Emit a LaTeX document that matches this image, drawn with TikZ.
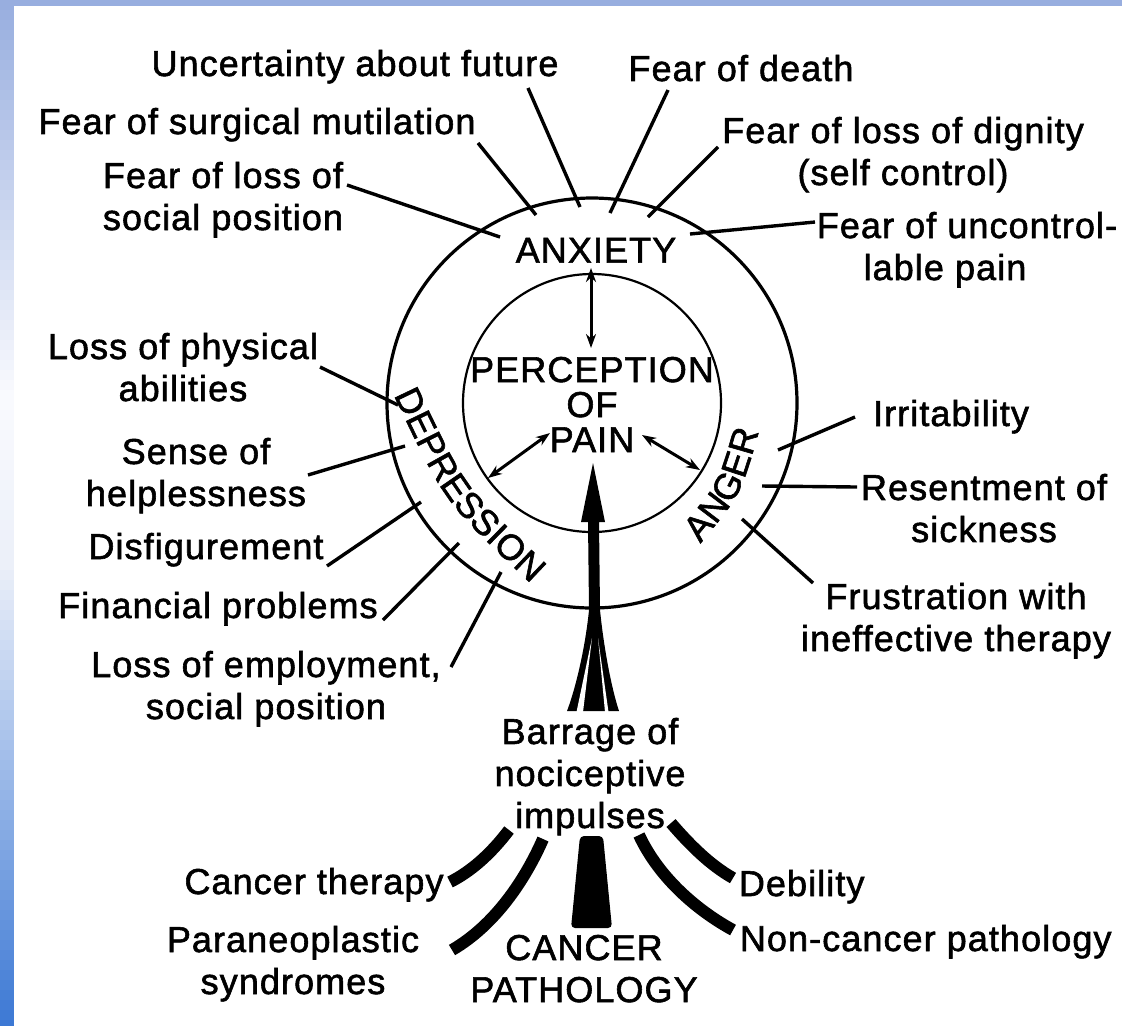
\documentclass[tikz,border=0pt]{standalone}
\usepackage{fontspec}
\setmainfont[LetterSpace=3,FakeBold=1.6]{Liberation Sans}
\usetikzlibrary{arrows.meta,decorations.text}

\definecolor{bordtop}{RGB}{152,174,223}
\definecolor{bordpale}{RGB}{249,250,254}
\definecolor{bordmid}{RGB}{236,240,249}
\definecolor{bordlow}{RGB}{60,120,212}

\begin{document}
\begin{tikzpicture}[x=0.5pt,y=-0.5pt,
  lbl/.style={anchor=north,align=center,inner sep=0.75pt,font=\fontsize{18}{21}\selectfont},
  lead/.style={line width=1.7pt},
  ring/.style={line width=1.6pt},
  twohead/.style={line width=1.5pt,{Stealth[length=7pt,width=5pt]}-{Stealth[length=7pt,width=5pt]}},
  branch/.style={line width=6pt}]
\useasboundingbox (0,0) rectangle (1122,1025);

%Background and border strips
\fill[white] (0,0) rectangle (1122,1025);
\foreach \i in {0,...,39}{
  \pgfmathsetmacro\p{100*\i/39}
  \colorlet{bandc}{bordpale!\p!bordtop}
  \fill[bandc] (0,\i*10) rectangle (14,\i*10+10.5);
}
\foreach \i in {0,...,15}{
  \pgfmathsetmacro\p{100*\i/15}
  \colorlet{bandc}{bordmid!\p!bordpale}
  \fill[bandc] (0,400+\i*10) rectangle (14,410.5+\i*10);
}
\foreach \i in {0,...,46}{
  \pgfmathsetmacro\p{100*\i/46}
  \colorlet{bandc}{bordlow!\p!bordmid}
  \fill[bandc] (0,560+\i*10) rectangle (14,570.5+\i*10);
}
\fill[bordtop] (0,0) rectangle (1122,6);

%Shape: Rings
\coordinate (ctr) at (592,403);
\draw[ring] (ctr) circle[radius=205];
\draw[line width=1.1pt] (ctr) circle[radius=129];

% Text Node
\node[lbl] (unc) at (355,48) {Uncertainty about future};
\node[lbl] (death) at (741,53) {Fear of death};
\node[lbl] (surg) at (257,106) {Fear of surgical mutilation};
\node[lbl] (dign) at (903,115) {Fear of loss of dignity\\(self control)};
\node[lbl] (socl) at (223,160) {Fear of loss of\\social position};
\node[lbl] (unctl) at (967,210) {Fear of uncontrol-\\lable pain\hspace*{22pt}};
\node[lbl] (lphys) at (183,331) {Loss of physical\\abilities};
\node[lbl] (help) at (196,436) {Sense of\\helplessness};
\node[lbl] (disf) at (206,531) {Disfigurement};
\node[lbl] (fin) at (218,590) {Financial problems};
\node[lbl] (empl) at (266,649) {Loss of employment,\\social position};
\node[lbl] (irr) at (951,398) {Irritability};
\node[lbl] (resent) at (984,472) {Resentment of\\sickness};
\node[lbl] (frus) at (956,581) {Frustration with\\ineffective therapy};
\node[lbl] (barr) at (590,716) {Barrage of\\nociceptive\\impulses};
\node[lbl] (ther) at (314,866) {Cancer therapy};
\node[lbl] (para) at (293,924) {Paraneoplastic\\syndromes};
\node[lbl] (canc) at (584,933) {CANCER\\PATHOLOGY};
\node[lbl,anchor=north west] (deb) at (737,868) {Debility};
\node[lbl,anchor=north west] (nonc) at (738,923) {Non-cancer pathology};
\node[lbl] (anx) at (596,236) {ANXIETY};
\node[lbl,font=\fontsize{18}{17.5}\selectfont] (perc) at (592,355) {PERCEPTION\\OF\\PAIN};

% Ring text
\path[decorate,decoration={text along path,text align=center,
  text={|\fontsize{18}{21}\selectfont|DEPRESSION}}]
  (398,404) .. controls (445,502) .. (524,577);
\path[decorate,decoration={text along path,text align=center,
  text={|\fontsize{18}{21}\selectfont|ANGER}}]
  (700,544) .. controls (741,494) .. (759,431);

%Straight Lines: leaders
\coordinate (socl-a) at (347,185);  \coordinate (socl-b) at (500,237);
\coordinate (surg-a) at (478,143);  \coordinate (surg-b) at (536,215);
\coordinate (unc-a) at (528,88);    \coordinate (unc-b) at (580,207);
\coordinate (death-a) at (668,90);  \coordinate (death-b) at (610,213);
\coordinate (dign-a) at (718,147);  \coordinate (dign-b) at (648,217);
\coordinate (unctl-a) at (815,222); \coordinate (unctl-b) at (690,234);
\coordinate (lphys-a) at (320,367); \coordinate (lphys-b) at (398,405);
\coordinate (help-a) at (308,475);  \coordinate (help-b) at (405,446);
\coordinate (disf-a) at (327,566);  \coordinate (disf-b) at (421,502);
\coordinate (fin-a) at (383,620);   \coordinate (fin-b) at (459,543);
\coordinate (empl-a) at (451,667);  \coordinate (empl-b) at (501,572);
\coordinate (irr-a) at (855,417);   \coordinate (irr-b) at (778,450);
\coordinate (resent-a) at (857,487); \coordinate (resent-b) at (762,486);
\coordinate (frus-a) at (813,583);  \coordinate (frus-b) at (742,519);
\foreach \n in {socl,surg,unc,death,dign,unctl,lphys,help,disf,fin,empl,irr,resent,frus}
  \draw[lead] (\n-a) -- (\n-b);

%Double arrows
\coordinate (up-a) at (591,268);  \coordinate (up-b) at (591,348);
\coordinate (lf-a) at (488,478);  \coordinate (lf-b) at (550,433);
\coordinate (rt-a) at (700,470);  \coordinate (rt-b) at (642,435);
\draw[twohead] (up-a) -- (up-b);
\draw[twohead] (lf-a) -- (lf-b);
\draw[twohead] (rt-a) -- (rt-b);

%Shape: main arrow with fanned tail
\fill (593,463) -- (605,522) -- (599,522) -- (600,610)
  .. controls (604,650) and (612,690) .. (619,711) -- (567,711)
  .. controls (575,690) and (585,650) .. (589,610) -- (588,522) -- (581,522) -- cycle;
\fill[white] (592,638) -- (576.5,712) -- (583,712) -- cycle;
\fill[white] (598,638) -- (605,712) -- (608.5,712) -- cycle;

%Branches into barrage
\coordinate (ct-a) at (509,830);  \coordinate (ct-b) at (450,882);
\coordinate (pa-a) at (543,839);  \coordinate (pa-b) at (452,950);
\coordinate (nc-a) at (639,835);  \coordinate (nc-b) at (733,930);
\coordinate (db-a) at (671,823);  \coordinate (db-b) at (733,878);
\draw[branch] (ct-a) .. controls (490,855) and (470,872) .. (ct-b);
\draw[branch] (pa-a) .. controls (525,880) and (495,925) .. (pa-b);
\draw[branch] (nc-a) .. controls (660,880) and (700,912) .. (nc-b);
\draw[branch] (db-a) .. controls (690,845) and (710,865) .. (db-b);
\fill[rounded corners=2pt] (580,836) -- (603,836) -- (612,928) -- (571,928) -- cycle;

\end{tikzpicture}
\end{document}
